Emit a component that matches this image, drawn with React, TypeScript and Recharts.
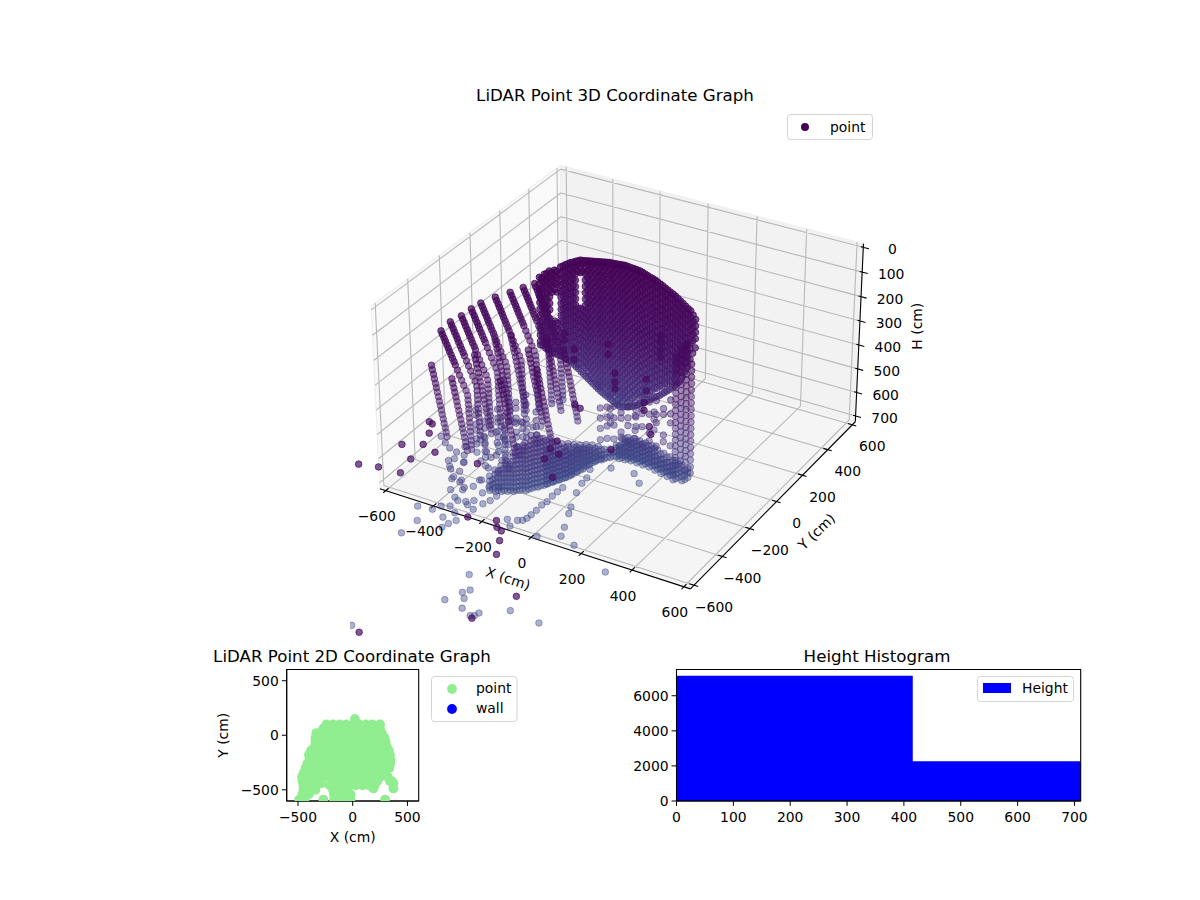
/**
 * LiDAR figure: 3D point cloud on top (projected by hand, then plotted on a
 * ScatterChart), 2D footprint and height histogram below.
 */
import { Area, AreaChart, ReferenceArea, Scatter, ScatterChart, XAxis, YAxis } from "recharts";

const FONT = "'DejaVu Sans', sans-serif";

// ---- 3D cloud, every row is [x, y, [heights...]] in cm
const WALL_COLUMNS: [number, number, number[]][] = [
  [-300, -60, [50, 76, 101, 128, 152, 180, 205, 232, 256, 284, 310, 325]],
  [-279, -60, [32, 58, 84, 110, 135, 162, 188, 214, 240, 266, 290, 316, 332]],
  [-259, -60, [14, 40, 66, 92, 118, 144, 170, 205, 230, 256, 282, 308, 334]],
  [-238, -60, [5, 30, 56, 82, 210, 236, 262, 288, 314, 341]],
  [-322, 120, [98, 122, 148, 172, 198, 222, 248, 272, 298, 322, 348, 372, 398, 420, 446, 467]],
  [-302, 120, [84, 110, 134, 160, 186, 210, 236, 260, 286, 312, 336, 362, 388, 412, 438, 473]],
  [-281, 120, [70, 96, 122, 146, 172, 198, 224, 250, 274, 300, 326, 352, 378, 402, 428, 454, 480]],
  [-261, 120, [60, 84, 110, 136, 162, 186, 212, 238, 264, 290, 314, 340, 366, 392, 418, 442, 468, 494]],
  [-240, 120, [49, 74, 100, 245, 270, 296, 322, 346, 372, 398, 424, 448, 474, 509]],
  [-220, 120, [46, 72, 98, 124, 150, 176, 202, 228, 254, 280, 306, 332, 358, 384, 410, 436, 462, 488, 523]],
  [-200, 120, [42, 68, 94, 120, 146, 172, 198, 224, 250, 276, 302, 328, 354, 380, 406, 432, 458, 484, 510, 538]],
  [-179, 120, [38, 64, 90, 116, 142, 168, 194, 220, 246, 272, 298, 324, 350, 376, 402, 428, 454, 480, 506, 532, 553]],
  [-159, 120, [34, 60, 86, 112, 138, 164, 190, 216, 242, 268, 294, 320, 346, 372, 398, 424, 450, 476, 502, 528, 550, 567]],
  [-139, 120, [30, 56, 82, 108, 134, 160, 186, 212, 238, 264, 290, 316, 342, 368, 394, 420, 446, 472, 498, 524, 550, 578]],
  [-118, 120, [26, 52, 78, 104, 130, 156, 182, 208, 234, 260, 286, 312, 338, 364, 390, 416, 442, 468, 494, 520, 546, 572, 588]],
  [-98, 120, [25, 51, 77, 103, 129, 155, 181, 207, 233, 259, 285, 311, 337, 363, 389, 415, 441, 467, 493, 519, 545, 571, 600]],
  [-77, 120, [23, 49, 75, 101, 127, 153, 179, 205, 231, 257, 283, 309, 335, 361, 387, 413, 439, 465, 491, 517, 543, 569, 595, 609]],
  [-57, 120, [21, 47, 73, 99, 125, 151, 177, 203, 229, 255, 281, 307, 333, 359, 385, 411, 437, 463, 489, 515, 541, 567, 603]],
  [-37, 120, [23, 49, 75, 101, 127, 153, 179, 205, 231, 257, 283, 309, 335, 361, 387, 413, 439, 465, 491, 517, 543, 569, 597]],
  [-16, 120, [25, 51, 77, 103, 129, 155, 181, 207, 233, 259, 285, 311, 337, 363, 389, 415, 441, 467, 493, 519, 545, 587]],
  [4, 120, [27, 53, 79, 105, 131, 157, 183, 209, 235, 261, 287, 313, 339, 365, 391, 417, 443, 469, 495, 521, 547, 573]],
  [24, 120, [34, 60, 86, 112, 138, 164, 190, 216, 242, 268, 294, 320, 346, 372, 398, 424, 450, 476, 502, 528, 559]],
  [45, 120, [41, 67, 93, 119, 145, 171, 197, 223, 249, 275, 301, 327, 353, 379, 405, 431, 457, 483, 509, 542]],
  [65, 120, [47, 73, 99, 125, 151, 177, 203, 229, 255, 281, 307, 333, 359, 385, 411, 437, 463, 489, 527]],
  [86, 120, [57, 83, 109, 135, 161, 187, 213, 239, 265, 291, 317, 343, 369, 395, 421, 447, 473, 513]],
  [106, 120, [68, 94, 120, 146, 172, 198, 224, 250, 276, 302, 328, 354, 380, 406, 432, 458, 494]],
  [126, 120, [78, 104, 130, 156, 182, 208, 234, 260, 286, 312, 338, 364, 390, 416, 442, 476]],
  [147, 120, [89, 115, 141, 167, 193, 219, 245, 271, 297, 323, 349, 375, 401, 427, 454]],
  [167, 120, [103, 129, 155, 181, 207, 233, 259, 285, 311, 337, 363, 389, 431]],
  [187, 120, [118, 144, 170, 196, 222, 248, 274, 300, 326, 352, 385]],
  [208, 120, [131, 157, 183, 209, 235, 261, 287, 328]],
  [228, 120, [160, 186, 212, 238, 275]],
];

// the same surface seen again on the next sweep
const WALL_SECOND_SWEEP: [number, number, number[]][] = [
  [-290, -60, [50, 63, 89, 115, 141, 167, 193, 219, 245, 271, 297, 323]],
  [-269, -60, [27, 53, 79, 105, 131, 157, 183, 209, 235, 261, 287, 313, 336]],
  [-249, -60, [18, 44, 70, 96, 222, 248, 274, 300, 326, 344]],
  [-228, -60, [8, 34, 60, 90, 215, 241, 267, 293, 319, 345]],
  [-312, 120, [92, 111, 137, 163, 189, 215, 241, 267, 293, 319, 345, 371, 397, 423, 449, 470]],
  [-292, 120, [78, 97, 123, 149, 175, 201, 227, 253, 279, 305, 331, 357, 383, 409, 435, 461, 476]],
  [-271, 120, [66, 83, 109, 135, 161, 187, 213, 239, 265, 291, 317, 343, 369, 395, 421, 447, 473, 487]],
  [-251, 120, [55, 71, 97, 248, 274, 300, 326, 352, 378, 404, 430, 456, 482, 500]],
  [-230, 120, [48, 61, 92, 248, 274, 300, 326, 352, 378, 404, 430, 456, 482, 515]],
  [-210, 120, [44, 59, 85, 111, 137, 163, 189, 215, 241, 267, 293, 319, 345, 371, 397, 423, 449, 475, 501, 530]],
  [-190, 120, [40, 55, 81, 107, 133, 159, 185, 211, 237, 263, 289, 315, 341, 367, 393, 419, 445, 471, 497, 523, 545]],
  [-169, 120, [36, 51, 77, 103, 129, 155, 181, 207, 233, 259, 285, 311, 337, 363, 389, 415, 441, 467, 493, 519, 545, 560]],
  [-149, 120, [32, 47, 73, 99, 125, 151, 177, 203, 229, 255, 281, 307, 333, 359, 385, 411, 437, 463, 489, 515, 541, 572]],
  [-128, 120, [28, 43, 69, 95, 121, 147, 173, 199, 225, 251, 277, 303, 329, 355, 381, 407, 433, 459, 485, 511, 537, 563, 583]],
  [-108, 120, [26, 39, 65, 91, 117, 143, 169, 195, 221, 247, 273, 299, 325, 351, 377, 403, 429, 455, 481, 507, 533, 559, 594]],
  [-87, 120, [24, 38, 64, 90, 116, 142, 168, 194, 220, 246, 272, 298, 324, 350, 376, 402, 428, 454, 480, 506, 532, 558, 584, 604]],
  [-67, 120, [22, 36, 62, 88, 114, 140, 166, 192, 218, 244, 270, 296, 322, 348, 374, 400, 426, 452, 478, 504, 530, 556, 582, 606]],
  [-47, 120, [22, 36, 62, 88, 114, 140, 166, 192, 218, 244, 270, 296, 322, 348, 374, 400, 426, 452, 478, 504, 530, 556, 582, 600]],
  [-26, 120, [24, 38, 64, 90, 116, 142, 168, 194, 220, 246, 272, 298, 324, 350, 376, 402, 428, 454, 480, 506, 532, 558, 592]],
  [-6, 120, [26, 40, 66, 92, 118, 144, 170, 196, 222, 248, 274, 300, 326, 352, 378, 404, 430, 456, 482, 508, 534, 580]],
  [14, 120, [30, 47, 73, 99, 125, 151, 177, 203, 229, 255, 281, 307, 333, 359, 385, 411, 437, 463, 489, 515, 541, 566]],
  [34, 120, [37, 54, 80, 106, 132, 158, 184, 210, 236, 262, 288, 314, 340, 366, 392, 418, 444, 470, 496, 522, 550]],
  [55, 120, [44, 60, 86, 112, 138, 164, 190, 216, 242, 268, 294, 320, 346, 372, 398, 424, 450, 476, 502, 534]],
  [75, 120, [52, 70, 96, 122, 148, 174, 200, 226, 252, 278, 304, 330, 356, 382, 408, 434, 460, 486, 520]],
  [96, 120, [62, 81, 107, 133, 159, 185, 211, 237, 263, 289, 315, 341, 367, 393, 419, 445, 471, 503]],
  [116, 120, [73, 91, 117, 143, 169, 195, 221, 247, 273, 299, 325, 351, 377, 403, 429, 455, 485]],
  [137, 120, [83, 102, 128, 154, 180, 206, 232, 258, 284, 310, 336, 362, 388, 414, 440, 465]],
  [157, 120, [96, 116, 142, 168, 194, 220, 246, 272, 298, 324, 350, 376, 402, 442]],
  [177, 120, [110, 131, 157, 183, 209, 235, 261, 287, 313, 339, 365, 408]],
  [198, 120, [125, 144, 170, 196, 222, 248, 274, 300, 326, 358]],
  [218, 120, [145, 172, 198, 224, 250, 300]],
];

// darker returns in front of the wall
const NEAR_COLUMNS: [number, number, number[]][] = [
  [176, -37, [165, 190, 222, 250]],
  [163, -330, [170, 205, 232]],
  [329, -422, [190, 220]],
  [-142, -156, [185, 212]],
  [-40, -260, [170, 210]],
  [60, -200, [150, 190]],
  [240, -250, [212, 258]],
];

// scan lines along the left side, one x per entry of FAN_HEIGHTS
const FAN_HEIGHTS = [80, 92, 104, 116, 128, 140, 152, 164, 176, 188, 200, 218, 236, 254, 272, 290, 308, 326, 344, 362, 380, 398, 416, 434, 452, 470, 488, 506, 524];
const FAN_Y = [-511, -442, -387, -328, -276, -215, -159, -106, -62];
const FAN_X = [
  [-419, -414, -408, -403, -397, -392, -387, -381, -376, -370, -365, -357, -349, -341, -333, -324, -318, -317, -316, -315, -315, -314, -313, -312, -311, -310, -309, -309, -308],
  [-426, -421, -415, -410, -404, -399, -394, -388, -383, -377, -372, -364, -356, -348, -340, -331, -325, -324, -323, -322, -322, -321, -320, -319, -318, -317, -316, -316, -315],
  [-416, -411, -405, -400, -394, -389, -384, -378, -373, -367, -362, -354, -346, -338, -330, -321, -315, -314, -313, -312, -312, -311, -310, -309, -308, -307, -306, -306, -305],
  [-413, -408, -402, -397, -391, -386, -381, -375, -370, -364, -359, -351, -343, -335, -327, -318, -312, -311, -310, -309, -309, -308, -307, -306, -305, -304, -303, -303, -302],
  [-407, -402, -396, -391, -385, -380, -375, -369, -364, -358, -353, -345, -337, -329, -321, -312, -306, -305, -304, -303, -303, -302, -301, -300, -299, -298, -297, -297, -296],
  [-386, -381, -375, -370, -364, -359, -354, -348, -343, -337, -332, -324, -316, -308, -300, -291, -285, -284, -283, -282, -282, -281, -280, -279, -278, -277, -276, -276, -275],
  [-360, -355, -349, -344, -338, -333, -328, -322, -317, -311, -306, -298, -290, -282, -274, -265, -259, -258, -257, -256, -256, -255, -254, -253, -252, -251, -250, -250, -249],
  [-339, -334, -328, -323, -317, -312, -307, -301, -296, -290, -285, -277, -269, -261, -253, -244, -238, -237, -236, -235, -235, -234, -233, -232, -231, -230, -229, -229, -228],
  [-319, -314, -308, -303, -297, -292, -287, -281, -276, -270, -265, -257, -249, -241, -233, -224, -218, -217, -216, -215, -215, -214, -213, -212, -211, -210, -209, -209, -208],
];

// shorter scan lines below and between them
const SHORT_HEIGHTS = [200, 217, 234, 251, 268, 285, 302, 319, 336, 353, 370, 387, 404, 421, 438, 455, 472];
const SHORT_Y = [-553, -419, -294, -237, -297, -204, -236, -402, -525, -596];
const SHORT_X = [
  [-435, -432, -428, -425, -421, -418, -415, -411, -408, -404, -401, -398, -394, -391, -387, -384, -381],
  [-345, -342, -338, -335, -331, -328, -325, -321, -318, -314, -311, -308, -304, -301, -297, -294, -291],
  [-340, -337, -333, -330, -326, -323, -320, -316, -313, -309, -306, -303, -299, -296, -292, -289, -286],
  [-311, -308, -304, -301, -297, -294, -291, -287, -284, -280, -277, -274, -270, -267, -263, -260, -257],
  [-203, -200, -196, -193, -189, -186, -183, -179, -176, -172, -169, -166, -162, -159, -155, -152, -149],
  [-184, -181, -177, -174, -170, -167, -164, -160, -157, -153, -150, -147, -143, -140, -136, -133, -130],
  [-96, -93, -89, -86, -82, -79, -76, -72, -69, -65, -62, -59, -55, -52, -48, -45, -42],
  [-103, -100, -96, -93, -89, -86, -83, -79, -76, -72, -69, -66, -62, -59, -55, -52, -49],
  [-174, -171, -167, -164, -160, -157, -154, -150, -147, -143, -140, -137, -133, -130, -126, -123, -120],
  [-324, -321, -317, -314, -310, -307, -304, -300, -297, -293, -290, -287, -283, -280, -276, -273, -270],
];

const RIGHT_COLUMNS: [number, number, number[]][] = [
  [273, -100, [190, 214, 238, 262, 286, 310, 334, 358, 382, 406, 430, 454, 478, 502, 526, 550, 574, 598, 622]],
  [294, -100, [150, 174, 198, 222, 246, 270, 294, 318, 342, 366, 390, 414, 438, 462, 486, 510, 534, 558, 582, 606, 630]],
  [314, -100, [125, 149, 173, 197, 221, 245, 269, 293, 317, 341, 365, 389, 413, 437, 461, 485, 509, 533, 557, 581, 605, 640]],
  [334, -100, [200, 226, 252, 278, 304, 330, 356, 382, 408, 434, 460, 486, 512, 538, 564, 590, 618, 644]],
];

const LOWER_COLUMNS: [number, number, number[]][] = [
  [-348, -364, [500, 527, 566, 588, 623, 648, 684]],
  [-364, -252, [512, 549, 566, 603, 628, 664, 690]],
  [-305, -299, [498, 535, 558, 594, 616, 655, 684]],
  [-327, -189, [505, 530, 571, 592, 630, 651, 693]],
  [-315, -140, [496, 534, 560, 597, 618, 650, 676]],
  [-431, -291, [514, 536, 574, 600, 636, 657, 692]],
  [-280, -340, [520, 548, 572, 610, 640, 668]],
  [-255, -260, [530, 556, 590, 625, 648]],
  [-230, -210, [505, 540, 566, 600, 634]],
  [-31, -100, [486, 528, 571, 618]],
  [-3, -100, [474, 516, 552, 604]],
  [25, -100, [462, 510, 540, 598]],
  [54, -100, [480, 502, 560, 582]],
  [82, -100, [448, 493, 525, 590]],
  [111, -100, [422, 476, 536, 570]],
  [139, -100, [435, 458, 512, 586]],
  [168, -100, [402, 452, 530, 562]],
  [196, -100, [388, 445, 478, 575]],
  [225, -100, [412, 436, 520, 548]],
  [253, -100, [368, 425, 462, 556]],
  [-60, 20, [560, 590, 620]],
  [40, 30, [540, 570, 610]],
  [120, 20, [520, 550, 595]],
];

// low returns where the scan lines reach the ground, [x, y, h]
const LOW_POINTS: [number, number, number][] = [
  [-517, -388, 600], [-481, -417, 600], [-448, -439, 600], [-412, -450, 600], [-378, -454, 600],
  [-406, -405, 600], [-406, -512, 600], [-369, -555, 600], [-331, -607, 600], [-353, -497, 600],
  [-334, -552, 600], [-295, -611, 600], [-263, -633, 600], [-386, -312, 600], [-352, -358, 600],
  [-321, -397, 600], [-363, -267, 600], [-322, -325, 600], [-322, -283, 600], [-281, -317, 600],
  [-247, -313, 600], [-280, -398, 600], [-244, -418, 600], [-288, -420, 600], [-259, -484, 600],
  [-218, -484, 600], [-197, -449, 600], [-210, -357, 600], [-344, -174, 600], [-323, -162, 600],
  [-268, -171, 600], [-247, -151, 600], [-363, -185, 600],
  [-321, -447, 690], [-266, -472, 690], [-235, -454, 690],
];

const FLOOR_COLUMNS: [number, number, number[]][] = [
  [-279, -447, [720, 700, 680, 660]],
  [-258, -443, [720, 702, 684, 666, 648, 630]],
  [-240, -432, [720, 702, 684, 666, 648, 630, 612]],
  [-222, -421, [720, 702, 684, 666, 648, 630, 612, 594]],
  [-203, -411, [720, 702, 684, 666, 648, 630, 612, 594, 576, 558]],
  [-188, -394, [720, 702, 684, 666, 648, 630, 612, 594, 576, 558, 540]],
  [-169, -384, [720, 702, 684, 666, 648, 630, 612, 594, 576, 558, 540, 522]],
  [-158, -361, [720, 702, 684, 666, 648, 630, 612, 594, 576, 558, 540, 522, 500]],
  [-144, -344, [720, 702, 684, 666, 648, 630, 612, 594, 576, 558, 540, 522, 504]],
  [-132, -322, [720, 702, 684, 666, 648, 630, 612, 594, 576, 558, 540, 526]],
  [-121, -298, [720, 702, 684, 666, 648, 630, 612, 594, 576, 558, 540]],
  [-110, -276, [720, 702, 684, 666, 648, 630, 612, 594, 576, 556]],
  [-98, -253, [720, 702, 684, 666, 648, 630, 612, 594, 574]],
  [-87, -230, [720, 702, 684, 666, 648, 630, 612, 594, 582]],
  [-80, -201, [720, 702, 684, 666, 648, 630, 612, 600]],
  [-72, -172, [720, 702, 684, 666, 648, 630, 615]],
  [-68, -137, [720, 702, 684, 666, 648, 630]],
  [-60, -108, [720, 702, 684, 666, 645]],
  [-52, -79, [720, 702, 684, 664]],
  [-37, -63, [720, 702, 680]],
  [-23, -45, [720, 702, 684]],
  [-7, -29, [720, 702, 684, 672]],
  [14, -24, [720, 702, 684, 666, 642]],
  [36, -20, [720, 702, 684, 666, 648, 630]],
  [58, -16, [720, 702, 684, 666, 648, 630]],
  [83, -17, [720, 702, 684, 666, 648, 632]],
  [108, -19, [720, 702, 684, 666, 648, 632]],
  [134, -20, [720, 702, 684, 666, 648, 634]],
  [163, -28, [720, 702, 684, 666, 640]],
  [192, -36, [720, 702, 684, 666, 640]],
  [221, -43, [720, 702, 684, 666, 642]],
  [250, -52, [720, 702, 684, 666, 644]],
  [275, -53, [720, 702, 684, 655]],
  [283, -24, [720, 700, 682]],
];

// next rings, slightly offset from the ones above
const FLOOR_RINGS_B: [number, number, number[]][] = [
  [-267, -447, [711, 691, 671]],
  [-246, -443, [711, 693, 675, 657, 639]],
  [-228, -432, [711, 693, 675, 657, 639, 621]],
  [-210, -421, [711, 693, 675, 657, 639, 621, 603]],
  [-191, -411, [711, 693, 675, 657, 639, 621, 603, 585, 567]],
  [-176, -394, [711, 693, 675, 657, 639, 621, 603, 585, 567, 549]],
  [-157, -384, [711, 693, 675, 657, 639, 621, 603, 585, 567, 549, 531]],
  [-146, -361, [711, 693, 675, 657, 639, 621, 603, 585, 567, 549, 531, 513]],
  [-132, -344, [711, 693, 675, 657, 639, 621, 603, 585, 567, 549, 531, 513]],
  [-120, -322, [711, 693, 675, 657, 639, 621, 603, 585, 567, 549, 531]],
  [-109, -298, [711, 693, 675, 657, 639, 621, 603, 585, 567, 549]],
  [-98, -276, [711, 693, 675, 657, 639, 621, 603, 585, 567]],
  [-86, -253, [711, 693, 675, 657, 639, 621, 603, 585]],
  [-75, -230, [711, 693, 675, 657, 639, 621, 603]],
  [-68, -201, [711, 693, 675, 657, 639, 621, 606]],
  [-60, -172, [711, 693, 675, 657, 639, 622]],
  [-56, -137, [711, 693, 675, 657, 638]],
  [-48, -108, [711, 693, 675, 655]],
  [-40, -79, [711, 693, 673]],
  [-25, -63, [711, 690]],
  [-11, -45, [711, 693]],
  [5, -29, [711, 693, 677]],
  [26, -24, [711, 693, 675, 657, 636]],
  [48, -20, [711, 693, 675, 657, 639]],
  [70, -16, [711, 693, 675, 657, 639]],
  [95, -17, [711, 693, 675, 657, 640]],
  [120, -19, [711, 693, 675, 657, 640]],
  [146, -20, [711, 693, 675, 657, 642]],
  [175, -28, [711, 693, 675, 652]],
  [204, -36, [711, 693, 675, 652]],
  [233, -43, [711, 693, 675, 653]],
  [262, -52, [711, 693, 675, 655]],
  [287, -53, [711, 693, 670]],
];
const FLOOR_RINGS_C: [number, number, number[]][] = [
  [-121, -318, [714, 696, 678, 660, 642, 624, 606, 588, 570]],
  [-110, -296, [714, 696, 678, 660, 642, 624, 606, 588]],
  [-98, -273, [714, 696, 678, 660, 642, 624, 606]],
  [-87, -250, [714, 696, 678, 660, 642, 624, 600]],
  [-80, -221, [714, 696, 678, 660, 642, 624]],
  [-72, -192, [714, 696, 678, 660, 642, 626]],
  [-68, -157, [714, 696, 678, 660, 640]],
  [-60, -128, [714, 696, 678, 656]],
  [-52, -99, [714, 696, 676]],
  [-37, -83, [714, 696]],
  [14, -44, [714, 696, 678, 660]],
  [36, -40, [714, 696, 678, 660, 642]],
  [58, -36, [714, 696, 678, 660, 642]],
  [83, -37, [714, 696, 678, 660, 642]],
  [108, -39, [714, 696, 678, 660, 642]],
  [134, -40, [714, 696, 678, 660, 644]],
  [163, -48, [714, 696, 678, 655]],
  [192, -56, [714, 696, 678, 655]],
  [221, -63, [714, 696, 678, 655]],
  [250, -72, [714, 696, 678, 658]],
];

// single returns scattered over the ground, [x, y, h]
const FLOOR_POINTS: [number, number, number][] = [
  [-206, -1407, 690], [316, -1090, 690], [-23, -1131, 690], [4, -1066, 690], [28, -1093, 690],
  [-33, -966, 690], [19, -1042, 690], [53, -1144, 690], [99, -1167, 690], [111, -1160, 690],
  [116, -1140, 690], [198, -1077, 690], [354, -725, 690], [-371, -867, 690], [-416, -698, 690],
  [-367, -775, 690], [-361, -689, 690], [-302, -713, 690], [-263, -738, 690], [-270, -768, 690],
  [-251, -708, 690], [-346, -657, 690], [-319, -641, 690], [-282, -669, 690], [-271, -604, 690],
  [-238, -619, 690], [-228, -572, 690], [-217, -542, 690], [-315, -598, 690], [-287, -590, 690],
  [-266, -570, 690], [-375, -551, 690], [-335, -585, 690], [-213, -506, 690], [-267, -513, 690],
  [-318, -493, 690], [-338, -530, 690], [-412, -474, 690], [-376, -479, 690], [-462, -422, 690],
  [-475, -371, 690], [-433, -373, 690], [-385, -337, 690], [-315, -443, 690],
  [-102, -614, 690], [-72, -645, 690], [-68, -602, 690], [-53, -593, 690], [-47, -574, 690],
  [-46, -548, 690], [-45, -515, 690], [-47, -476, 690], [-42, -449, 690], [-45, -409, 690],
  [-44, -376, 690], [-42, -343, 690], [-20, -192, 690], [-1, -246, 690], [2, -285, 690],
  [17, -348, 690], [48, -437, 690], [63, -477, 690], [94, -558, 690], [113, -612, 690],
  [180, -638, 690], [42, -653, 690], [40, -147, 690], [129, -138, 690], [176, -184, 690],
];

// the darker, higher returns that land away from the main surfaces
const STRAY_POINTS: [number, number, number][] = [
  [206, -1932, 250], [459, -1701, 250], [514, -1535, 250], [339, -1370, 250], [306, -1299, 250],
  [281, -1249, 250], [258, -1238, 250], [236, -1206, 250], [146, -1234, 250], [-335, -1144, 250],
  [-269, -1126, 250], [-187, -1120, 250], [-205, -1032, 250], [-281, -970, 250], [-220, -935, 250],
  [-159, -957, 250], [-282, -803, 250], [-242, -865, 250], [-266, -810, 250], [0, -947, 250],
  [153, -695, 250], [159, -748, 250], [201, -765, 250], [175, -812, 250], [256, -896, 250],
  [336, -654, 250], [372, -462, 250], [401, -503, 250], [111, -475, 250], [84, -464, 250],
];

const X_TICKS = [-600, -400, -200, 0, 200, 400, 600];
const Y_TICKS = [-600, -400, -200, 0, 200, 400, 600];
const H_TICKS = [0, 100, 200, 300, 400, 500, 600, 700];

// ---- 2D footprint, [y, [x...]]
const FOOTPRINT_ROWS: [number, number[]][] = [
  [150, [20]],
  [100, [-240, -180, -120, -60, 0, 60, 120, 180, 250]],
  [60, [-270, -200, -140, -80, -20, 40, 100, 160, 220, 250]],
  [20, [-332, -270, -210, -150, -90, -30, 30, 90, 150, 210, 265]],
  [-20, [-340, -280, -220, -160, -100, -40, 20, 80, 140, 200, 290]],
  [-60, [-340, -280, -220, -160, -100, -40, 20, 80, 140, 200, 260, 300]],
  [-100, [-345, -285, -225, -165, -105, -45, 15, 75, 135, 195, 255, 310]],
  [-140, [-380, -320, -260, -200, -140, -80, -20, 40, 100, 160, 220, 280, 330]],
  [-180, [-400, -340, -280, -220, -160, -100, -40, 20, 80, 140, 200, 260, 340]],
  [-220, [-393, -335, -275, -215, -155, -95, -35, 25, 85, 145, 205, 265, 344]],
  [-260, [-414, -350, -290, -230, -170, -110, -50, 10, 70, 130, 190, 250, 310, 344]],
  [-300, [-430, -370, -310, -250, -190, -130, -70, -10, 50, 110, 170, 230, 290, 335]],
  [-340, [-445, -385, -325, -265, -205, -145, -85, -25, 35, 95, 155, 215, 283]],
  [-380, [-463, -400, -340, -280, -220, -160, -100, -40, 20, 80, 140, 200, 250, 320]],
  [-420, [-460, -400, -340, -190, -130, -70, -10, 50, 110, 170, 225, 340, 356]],
  [-440, [-283, 372]],
  [-460, [-450, -390, -340, -210, -150, -90, -30, 30, 90, 150, 200]],
  [-488, [189, 372]],
  [-500, [-450, -395, -340, -180, -120, -50]],
  [-540, [-460, -400, -170, -110, -20]],
  [-590, [-488, -440, -268, -170, -130, -60, -20, 296]],
];
const FOOTPRINT_TICKS = [-500, 0, 500];

// ---- histogram, lower bin edge and count
const BIN_EDGES = [0, 415.6, 711];
const BIN_COUNTS = [7139, 2266, 2266];
const HIST_X_TICKS = [0, 100, 200, 300, 400, 500, 600, 700];
const HIST_Y_TICKS = [0, 2000, 4000, 6000];

// ---- projection (elev 30, azim -60, eye distance 10, squat box)
const BOX_XY = 0.595;
const BOX_Z = 0.35;
const LIM_XY = 625;
const H_TOP = -15;
const H_BOTTOM = 725;
const PX_SCALE = 2975;
const CENTER_PX = 622;
const CENTER_PY = 366;
const CHART3D = { left: 350, top: 80, width: 610, height: 565 };

function project(x: number, y: number, h: number) {
  const dx = (x / LIM_XY) * BOX_XY;
  const dy = (y / LIM_XY) * BOX_XY;
  const dz = (((H_TOP + H_BOTTOM) / 2 - h) / ((H_BOTTOM - H_TOP) / 2)) * BOX_Z;
  const depth = 0.433 * dx - 0.75 * dy + 0.5 * dz;
  const w = 10 - depth;
  return {
    sx: (0.866 * dx + 0.5 * dy) / w,
    sy: (-0.25 * dx + 0.433 * dy + 0.866 * dz) / w,
    depth,
    h,
  };
}

const mix = (a: number[], b: number[], t: number) =>
  `rgb(${a.map((v, i) => Math.round(v + (b[i] - v) * t)).join(",")})`;

function pointColor(h: number) {
  if (h < 300) return mix([68, 1, 84], [69, 15, 99], h / 300);
  if (h < 500) return mix([69, 15, 99], [71, 45, 123], (h - 300) / 200);
  return mix([71, 45, 123], [62, 74, 137], Math.min(1, (h - 500) / 220));
}
function pointAlpha(h: number, solid: boolean) {
  if (solid) return Math.max(0.55, 0.76 - (h / 700) * 0.2);
  if (h < 130) return 0.72;
  if (h < 300) return 0.72 - ((h - 130) / 170) * 0.24;
  return Math.max(0.42, 0.48 - ((h - 300) / 400) * 0.06);
}

const columnPoints = (rows: [number, number, number[]][]) =>
  rows.flatMap(([x, y, hs]) => hs.map((h) => project(x, y, h)));
const linePoints = (ys: number[], xs: number[][], hs: number[]) =>
  ys.flatMap((y, i) => hs.map((h, j) => project(xs[i][j], y, h)));
const tripletPoints = (rows: [number, number, number][]) => rows.map(([x, y, h]) => project(x, y, h));
const markSolid = (pts: ReturnType<typeof project>[]) => pts.map((p) => ({ ...p, solid: true }));

const cloud = [
  ...markSolid(columnPoints(WALL_COLUMNS)),
  ...markSolid(columnPoints(WALL_SECOND_SWEEP)),
  ...markSolid(columnPoints(NEAR_COLUMNS)),
  ...markSolid(tripletPoints(STRAY_POINTS)),
  ...linePoints(FAN_Y, FAN_X, FAN_HEIGHTS),
  ...linePoints(SHORT_Y, SHORT_X, SHORT_HEIGHTS),
  ...columnPoints(RIGHT_COLUMNS),
  ...columnPoints(LOWER_COLUMNS),
  ...tripletPoints(LOW_POINTS),
  ...columnPoints(FLOOR_COLUMNS),
  ...columnPoints(FLOOR_RINGS_B),
  ...columnPoints(FLOOR_RINGS_C),
  ...tripletPoints(FLOOR_POINTS),
].sort((a, b) => a.depth - b.depth);

// panes
const leftPane = [
  project(-LIM_XY, -LIM_XY, H_BOTTOM), project(-LIM_XY, LIM_XY, H_BOTTOM),
  project(-LIM_XY, LIM_XY, H_TOP), project(-LIM_XY, -LIM_XY, H_TOP),
];
const backPane = [
  project(-LIM_XY, LIM_XY, H_BOTTOM), project(LIM_XY, LIM_XY, H_BOTTOM),
  project(LIM_XY, LIM_XY, H_TOP), project(-LIM_XY, LIM_XY, H_TOP),
];
const floorPane = [
  project(-LIM_XY, -LIM_XY, H_BOTTOM), project(LIM_XY, -LIM_XY, H_BOTTOM),
  project(LIM_XY, LIM_XY, H_BOTTOM), project(-LIM_XY, LIM_XY, H_BOTTOM),
];

// grid lines and axes as point pairs
const gridPairs = [
  ...X_TICKS.flatMap((v) => [
    project(v, -LIM_XY, H_BOTTOM), project(v, LIM_XY, H_BOTTOM),
    project(v, LIM_XY, H_BOTTOM), project(v, LIM_XY, H_TOP),
  ]),
  ...Y_TICKS.flatMap((v) => [
    project(-LIM_XY, v, H_TOP), project(-LIM_XY, v, H_BOTTOM),
    project(-LIM_XY, v, H_BOTTOM), project(LIM_XY, v, H_BOTTOM),
  ]),
  ...H_TICKS.flatMap((v) => [
    project(-LIM_XY, -LIM_XY, v), project(-LIM_XY, LIM_XY, v),
    project(-LIM_XY, LIM_XY, v), project(LIM_XY, LIM_XY, v),
  ]),
];
const axisPairs = [
  project(-LIM_XY, -LIM_XY, H_BOTTOM), project(LIM_XY, -LIM_XY, H_BOTTOM),
  project(LIM_XY, -LIM_XY, H_BOTTOM), project(LIM_XY, LIM_XY, H_BOTTOM),
  project(LIM_XY, LIM_XY, H_BOTTOM), project(LIM_XY, LIM_XY, H_TOP),
  ...X_TICKS.flatMap((v) => [project(v, -LIM_XY + 18, H_BOTTOM), project(v, -LIM_XY - 16, H_BOTTOM)]),
  ...Y_TICKS.flatMap((v) => [project(LIM_XY - 18, v, H_BOTTOM), project(LIM_XY + 16, v, H_BOTTOM)]),
  ...H_TICKS.flatMap((v) => [project(LIM_XY - 10, LIM_XY, v), project(LIM_XY + 22, LIM_XY, v)]),
];

const minus = (v: number) => String(v).replace("-", "\u2212");

const labels3d = [
  ...X_TICKS.map((v) => ({ ...project(v, -LIM_XY, H_BOTTOM), dx: -9, dy: 25.5, text: minus(v), rot: 0 })),
  ...Y_TICKS.map((v) => ({ ...project(LIM_XY, v, H_BOTTOM), dx: 20, dy: 21.5, text: minus(v), rot: 0 })),
  ...H_TICKS.map((v) => ({ ...project(LIM_XY, LIM_XY, v), dx: 29, dy: 2, text: minus(v), rot: 0 })),
  { ...project(0, -LIM_XY, H_BOTTOM), dx: -23, dy: 41, text: "X (cm)", rot: 18 },
  { ...project(LIM_XY, 0, H_BOTTOM), dx: 40, dy: 30, text: "Y (cm)", rot: -44 },
  { ...project(LIM_XY, LIM_XY, 355), dx: 58, dy: -8, text: "H (cm)", rot: -90 },
];

const noMark = () => <g />;

function Axes3D() {
  const { left, top, width, height } = CHART3D;
  const xDomain = [(left - CENTER_PX) / PX_SCALE, (left + width - CENTER_PX) / PX_SCALE];
  const yDomain = [(CENTER_PY - top - height) / PX_SCALE, (CENTER_PY - top) / PX_SCALE];

  const paneLine = (fill: string) => (p: any) => (
    <polygon
      points={p.points.map((q: any) => `${q.x},${q.y}`).join(" ")}
      fill={fill}
      stroke="#efefef"
      strokeWidth={1.2}
    />
  );
  const pairsLine = (stroke: string, sw: number) => (p: any) => {
    let d = "";
    for (let i = 0; i + 1 < p.points.length; i += 2) {
      d += `M${p.points[i].x},${p.points[i].y}L${p.points[i + 1].x},${p.points[i + 1].y}`;
    }
    return <path d={d} fill="none" stroke={stroke} strokeWidth={sw} />;
  };

  return (
    <div style={{ position: "absolute", left, top, width, height }}>
      <ScatterChart width={width} height={height} margin={{ top: 0, right: 0, bottom: 0, left: 0 }}>
        <XAxis type="number" dataKey="sx" domain={xDomain} hide allowDataOverflow />
        <YAxis type="number" dataKey="sy" domain={yDomain} hide allowDataOverflow />
        <Scatter data={leftPane} line={paneLine("#f9f9f9")} shape={noMark} isAnimationActive={false} />
        <Scatter data={backPane} line={paneLine("#f2f2f2")} shape={noMark} isAnimationActive={false} />
        <Scatter data={floorPane} line={paneLine("#f5f5f5")} shape={noMark} isAnimationActive={false} />
        <Scatter data={gridPairs} line={pairsLine("#b9b9b9", 1.1)} shape={noMark} isAnimationActive={false} />
        <Scatter data={axisPairs} line={pairsLine("#000", 1.1)} shape={noMark} isAnimationActive={false} />
        <Scatter
          name="point"
          data={cloud}
          isAnimationActive={false}
          shape={(p: any) => {
            const color = pointColor(p.payload.h);
            const alpha = pointAlpha(p.payload.h, !!p.payload.solid);
            return (
              <circle
                cx={p.cx}
                cy={p.cy}
                r={3.3}
                fill={color}
                fillOpacity={alpha}
                stroke={color}
                strokeOpacity={alpha}
                strokeWidth={1}
              />
            );
          }}
        />
        <Scatter
          data={labels3d}
          isAnimationActive={false}
          shape={(p: any) => {
            const tx = p.cx + p.payload.dx;
            const ty = p.cy + p.payload.dy;
            return (
              <text
                x={tx}
                y={ty}
                textAnchor="middle"
                dominantBaseline="central"
                fontFamily={FONT}
                fontSize={13.9}
                fill="#000"
                transform={p.payload.rot ? `rotate(${p.payload.rot} ${tx} ${ty})` : undefined}
              >
                {p.payload.text}
              </text>
            );
          }}
        />
        <text x={265} y={15} textAnchor="middle" dominantBaseline="central" fontFamily={FONT} fontSize={16.67} fill="#000">
          LiDAR Point 3D Coordinate Graph
        </text>
        <rect x={437.5} y={34.5} width={85} height={25} rx={3} fill="#fff" stroke="#d5d5d5" />
        <circle cx={455} cy={47} r={4} fill="#440154" />
        <text x={480} y={47} dominantBaseline="central" fontFamily={FONT} fontSize={13.9} fill="#000">
          point
        </text>
      </ScatterChart>
    </div>
  );
}

const footprint = FOOTPRINT_ROWS.flatMap(([y, xs]) => xs.map((x) => ({ x, y })));
const wallPoints: { x: number; y: number }[] = [];

const tickStyle = { fontFamily: FONT, fontSize: 13.9, fill: "#000" };

function Footprint() {
  return (
    <div style={{ position: "absolute", left: 200, top: 640, width: 330, height: 210 }}>
      <ScatterChart width={330} height={210} margin={{ top: 29.5, right: 111.3, bottom: 0, left: 0 }}>
        <XAxis
          type="number"
          dataKey="x"
          domain={[-603, 603]}
          ticks={FOOTPRINT_TICKS}
          tickFormatter={minus}
          tick={tickStyle}
          tickSize={4.9}
          tickMargin={6.5}
          height={49}
          allowDataOverflow
          stroke="#000"
          label={{ value: "X (cm)", position: "insideBottom", offset: 8, style: tickStyle }}
        />
        <YAxis
          type="number"
          dataKey="y"
          domain={[-603, 603]}
          ticks={FOOTPRINT_TICKS}
          tickFormatter={minus}
          tick={tickStyle}
          tickSize={4.9}
          tickMargin={3}
          width={86.7}
          allowDataOverflow
          stroke="#000"
          label={{ value: "Y (cm)", angle: -90, position: "insideLeft", offset: 23, style: { ...tickStyle, textAnchor: "middle" } }}
        />
        <Scatter
          name="point"
          data={footprint}
          isAnimationActive={false}
          shape={(p: any) => <circle cx={p.cx} cy={p.cy} r={4.9} fill="#90ee90" />}
        />
        <Scatter
          name="wall"
          data={wallPoints}
          isAnimationActive={false}
          shape={(p: any) => <circle cx={p.cx} cy={p.cy} r={4.9} fill="#0000ff" />}
        />
        <ReferenceArea x1={-603} x2={603} y1={-603} y2={603} fill="none" stroke="#000" strokeWidth={1.1} fillOpacity={0} />
        <text x={152} y={16} textAnchor="middle" dominantBaseline="central" fontFamily={FONT} fontSize={16.67} fill="#000">
          LiDAR Point 2D Coordinate Graph
        </text>
        <rect x={231.5} y={36.5} width={85.5} height={45} rx={3} fill="#fff" stroke="#d5d5d5" />
        <circle cx={252} cy={49} r={4.9} fill="#90ee90" />
        <circle cx={252} cy={69} r={4.9} fill="#0000ff" />
        <text x={276} y={48} dominantBaseline="central" fontFamily={FONT} fontSize={13.9} fill="#000">point</text>
        <text x={276} y={68} dominantBaseline="central" fontFamily={FONT} fontSize={13.9} fill="#000">wall</text>
      </ScatterChart>
    </div>
  );
}

const histData = BIN_EDGES.map((edge, i) => ({ edge, count: BIN_COUNTS[i] }));

function Histogram() {
  return (
    <div style={{ position: "absolute", left: 620, top: 640, width: 480, height: 210 }}>
      <AreaChart width={480} height={210} data={histData} margin={{ top: 29.5, right: 19.3, bottom: 0, left: 0 }}>
        <XAxis
          type="number"
          dataKey="edge"
          domain={[0, 711]}
          ticks={HIST_X_TICKS}
          tick={tickStyle}
          tickSize={4.9}
          tickMargin={6.5}
          height={49}
          stroke="#000"
          interval={0}
        />
        <YAxis
          type="number"
          domain={[0, 7496]}
          ticks={HIST_Y_TICKS}
          tick={tickStyle}
          tickSize={4.9}
          tickMargin={3}
          width={56.5}
          stroke="#000"
          interval={0}
        />
        <Area
          type="stepAfter"
          dataKey="count"
          name="Height"
          fill="#0000ff"
          fillOpacity={1}
          stroke="none"
          dot={false}
          activeDot={false}
          isAnimationActive={false}
        />
        <ReferenceArea x1={0} x2={711} y1={0} y2={7496} fill="none" stroke="#000" strokeWidth={1.1} fillOpacity={0} />
        <text x={257} y={16} textAnchor="middle" dominantBaseline="central" fontFamily={FONT} fontSize={16.67} fill="#000">
          Height Histogram
        </text>
        <rect x={357.5} y={36.5} width={96} height={25} rx={3} fill="#fff" stroke="#d5d5d5" />
        <rect x={363} y={43} width={28} height={10} fill="#0000ff" />
        <text x={402} y={48} dominantBaseline="central" fontFamily={FONT} fontSize={13.9} fill="#000">
          Height
        </text>
      </AreaChart>
    </div>
  );
}

export default function App() {
  return (
    <div style={{ position: "absolute", left: 0, top: 0, width: 1200, height: 900, background: "#fff" }}>
      <Axes3D />
      <Footprint />
      <Histogram />
    </div>
  );
}
